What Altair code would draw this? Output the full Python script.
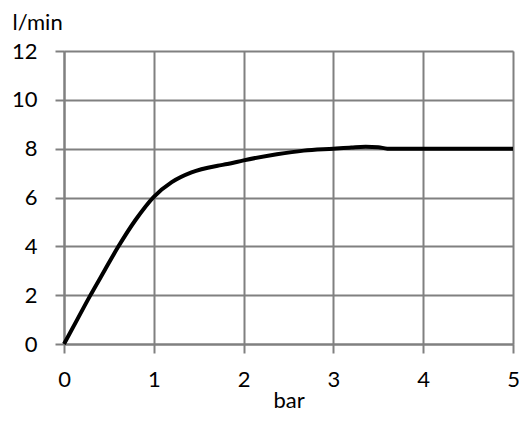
import altair as alt
import pandas as pd

x_vals = [0, 0.15, 0.29, 0.45, 0.6, 0.8, 1.0, 1.2, 1.42, 1.71, 1.82, 2.0, 2.37, 2.67, 3.0, 3.2, 3.36, 3.5, 3.6, 4.0, 4.5, 5.0]
y_vals = [0, 1.02, 1.97, 3.0, 3.96, 5.1, 6.03, 6.63, 7.03, 7.3, 7.37, 7.52, 7.77, 7.92, 8.0, 8.05, 8.08, 8.06, 8.0, 8.0, 8.0, 8.0]

df = pd.DataFrame({"bar": x_vals, "lmin": y_vals})

font = "Lato"
grid = "#808080"

chart = alt.Chart(df).mark_line(color="black", strokeWidth=4, interpolate="monotone").encode(
    x=alt.X("bar:Q", scale=alt.Scale(domain=[0, 5], nice=False),
            axis=alt.Axis(title="bar", values=[0, 1, 2, 3, 4, 5], format="d",
                          grid=True, gridColor=grid, gridWidth=2, gridOpacity=1,
                          domainColor=grid, domainWidth=2,
                          tickColor=grid, tickWidth=2, tickSize=9,
                          labelFont=font, labelFontSize=22, labelColor="black", labelPadding=16,
                          labelFlush=False,
                          titleFont=font, titleFontSize=22, titleFontWeight="normal",
                          titleColor="black", titlePadding=0)),
    y=alt.Y("lmin:Q", scale=alt.Scale(domain=[0, 12], nice=False),
            axis=alt.Axis(title="l/min", values=[0, 2, 4, 6, 8, 10, 12], format="d",
                          grid=True, gridColor=grid, gridWidth=2, gridOpacity=1,
                          domainColor=grid, domainWidth=2,
                          tickColor=grid, tickWidth=2, tickSize=9,
                          labelFont=font, labelFontSize=22, labelColor="black", labelPadding=18,
                          labelFlush=False,
                          titleFont=font, titleFontSize=22, titleFontWeight="normal",
                          titleColor="black", titleAngle=0, titleAlign="left",
                          titleBaseline="top", titleX=-52, titleY=-39)),
).properties(
    width=449, height=293,
    autosize=alt.AutoSizeParams(type="none"),
    padding={"left": 56, "top": 43, "right": 6, "bottom": 71},
).configure_view(stroke=grid, strokeWidth=2).configure(background="white")

chart.save("out.html", embed_options={"renderer": "svg", "actions": False})
